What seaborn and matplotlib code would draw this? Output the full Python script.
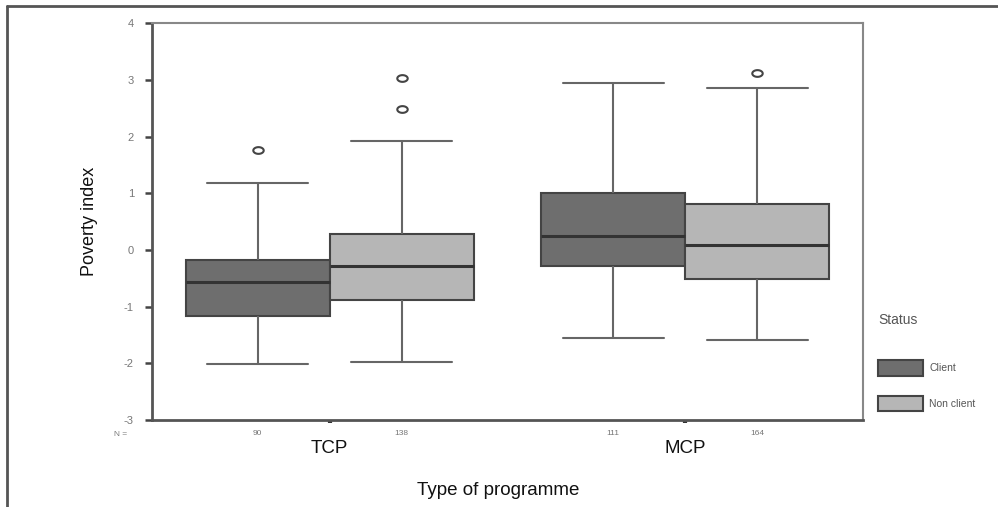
import numpy as np
import pandas as pd
import matplotlib
matplotlib.use("Agg")
import matplotlib.pyplot as plt
import matplotlib.patches as mpatches
from matplotlib.lines import Line2D
from matplotlib.path import Path
import seaborn as sns

# ---- values ----
programmes = ["TCP", "TCP", "MCP", "MCP"]
status = ["Client", "Non client", "Client", "Non client"]
whisker_lo = [-2.01, -1.97, -1.55, -1.59]
q1 = [-1.16, -0.89, -0.28, -0.52]
median = [-0.56, -0.28, 0.25, 0.09]
q3 = [-0.18, 0.29, 1.00, 0.82]
whisker_hi = [1.18, 1.93, 2.94, 2.86]
outliers = [[1.76], [2.49, 3.03], [], [3.13]]
n_labels = ["90", "138", "111", "164"]
categories = ["TCP", "MCP"]
hue_order = ["Client", "Non client"]
yticks = [-3, -2, -1, 0, 1, 2, 3, 4]

# build a table whose box statistics equal the summaries above
rows = []
for prog, st, lo, a, m, b, hi, outs in zip(programmes, status, whisker_lo, q1,
                                           median, q3, whisker_hi, outliers):
    vals = [lo] + [a] * 10 + [m] * 10 + [b] * 10 + [hi] + list(outs)
    for v in vals:
        rows.append({"Type of programme": prog, "Status": st, "Poverty index": v})
df = pd.DataFrame(rows)

sns.set_theme(style="white")
plt.rcParams["font.family"] = ["Liberation Sans", "DejaVu Sans"]

W, H = 998, 507
fig = plt.figure(figsize=(W / 100, H / 100), dpi=100)
ax = fig.add_axes([152 / W, 1 - 420 / H, (863 - 152) / W, (420 - 23.3) / H])

colors = {"Client": "#6e6e6e", "Non client": "#b6b6b6"}

# oval outlier marker
t = np.linspace(0, 2 * np.pi, 40)
oval = Path(np.column_stack([1.55 * np.cos(t), np.sin(t)]), closed=True)

sns.boxplot(data=df, x="Type of programme", y="Poverty index", hue="Status",
            order=categories, hue_order=hue_order, palette=colors,
            width=0.81, gap=0, saturation=1, legend=False, ax=ax, whis=1.6,
            capwidths=0.285,
            boxprops=dict(edgecolor="#444444", linewidth=1.5),
            whiskerprops=dict(color="#666666", linewidth=1.5),
            capprops=dict(color="#666666", linewidth=1.5),
            medianprops=dict(color="#333333", linewidth=2.2),
            flierprops=dict(marker=oval, markersize=7.5, markerfacecolor="white",
                            markeredgecolor="#444444", markeredgewidth=1.5))

ax.set_ylim(-3, 4)
ax.set_xlim(-0.5, 1.5)
ax.set_yticks(yticks)
ax.set_yticklabels([str(v) for v in yticks], fontsize=8, color="#777777")
ax.set_xticks([0, 1])
ax.set_xticklabels(categories, fontsize=13.5, color="#111111")
ax.tick_params(axis="y", left=True, length=5, width=1.8, color="#444444", pad=8)
ax.tick_params(axis="x", bottom=True, length=2.5, width=3, color="#333333", pad=12)

for side in ["left", "bottom"]:
    ax.spines[side].set_color("#555555")
    ax.spines[side].set_linewidth(2.0)
for side in ["top", "right"]:
    ax.spines[side].set_color("#888888")
    ax.spines[side].set_linewidth(1.5)

ax.set_ylabel("Poverty index", fontsize=13, color="#111111")
ax.yaxis.set_label_coords((98 - 152) / 711, 0.5)
ax.set_xlabel("Type of programme", fontsize=13.5, color="#111111")
ax.xaxis.set_label_coords((498 - 152) / 711, (420 - 482) / 397)

# N labels
trans = ax.get_xaxis_transform()
offsets = [-0.2025, 0.2025, -0.2025, 0.2025]
cat_pos = [0, 0, 1, 1]
for cp, off, lab in zip(cat_pos, offsets, n_labels):
    ax.text(cp + off, (420 - 434) / 397, lab, transform=trans, ha="center",
            va="center", fontsize=6, color="#777777")
fig.text(121 / W, 1 - 434 / H, "N =", ha="center", va="center", fontsize=6,
         color="#777777")

# legend
fig.text(878 / W, 1 - 320 / H, "Status", ha="left", va="center", fontsize=10,
         color="#555555")
handles = [mpatches.Patch(facecolor=colors[h], edgecolor="#444444", linewidth=1.5,
                          label=h) for h in hue_order]
fs = 7.5
fig.legend(handles=handles, loc="upper left",
           bbox_to_anchor=(878 / W, 1 - 360 / H), frameon=False, fontsize=fs,
           borderpad=0, borderaxespad=0, handlelength=45 / (fs * 1.389),
           handleheight=20 / (fs * 1.389), labelspacing=20 / (fs * 1.389),
           handletextpad=0.6, labelcolor="#555555")

# outer frame lines
fig.add_artist(Line2D([7 / W, 7 / W], [0, 1 - 6 / H], transform=fig.transFigure,
                      color="#555555", linewidth=2))
fig.add_artist(Line2D([7 / W, 1], [1 - 6 / H, 1 - 6 / H], transform=fig.transFigure,
                      color="#555555", linewidth=2))

fig.savefig("out.png", dpi=100)
